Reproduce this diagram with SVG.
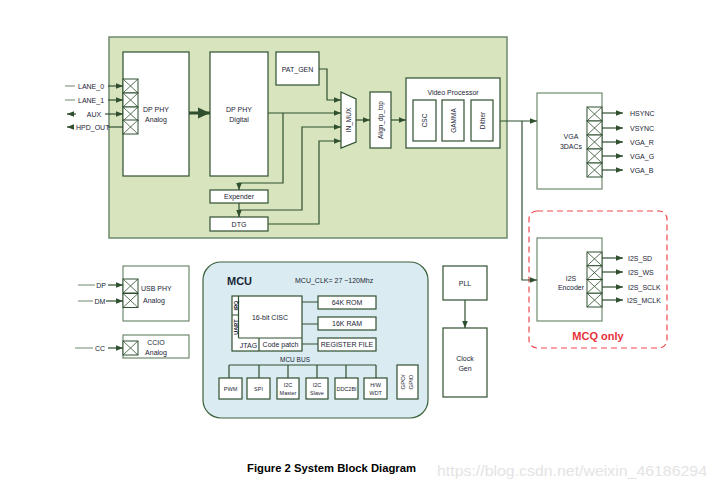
<svg xmlns="http://www.w3.org/2000/svg" xmlns:xlink="http://www.w3.org/1999/xlink" width="718" height="490" viewBox="0 0 718 490">
<style>
text{font-family:"Liberation Sans",Arial,sans-serif;font-size:7px;fill:#1b2535}
.c{text-anchor:middle}
.b{fill:#fff;stroke:#2f4f2f;stroke-width:1.2}
.g{fill:#fff;stroke:#6f8a6f;stroke-width:1.2}
.w{fill:none;stroke:#2f4f2f;stroke-width:1.2}
.lt{fill:none;stroke:#6f8a6f;stroke-width:1.2}
.a{marker-end:url(#ah)}
.s{marker-start:url(#ah)}
</style>
<defs>
<marker id="ah" viewBox="0 0 10 10" refX="10" refY="5" markerWidth="7" markerHeight="7" markerUnits="userSpaceOnUse" orient="auto-start-reverse"><path d="M0,1 L10,5 L0,9 z" fill="#2f4f2f"/></marker>
<marker id="ahb" viewBox="0 0 10 10" refX="10" refY="5" markerWidth="12" markerHeight="12" markerUnits="userSpaceOnUse" orient="auto"><path d="M0,0.5 L10,5 L0,9.5 z" fill="#2f4f2f"/></marker>
<g id="px"><rect x="0" y="0" width="15" height="14" fill="#fff" stroke="#2f4f2f" stroke-width="1"/><path d="M0,0 L15,14 M15,0 L0,14" stroke="#2f4f2f" stroke-width="0.8"/></g>
<g id="pxs"><rect x="0" y="0" width="15" height="13.75" fill="#fff" stroke="#2f4f2f" stroke-width="1"/><path d="M0,0 L15,13.75 M15,0 L0,13.75" stroke="#2f4f2f" stroke-width="0.8"/></g>
</defs>
<rect width="718" height="490" fill="#fff"/>

<g id="dp-subsystem">
<rect x="109" y="37" width="398" height="201" fill="#d7e4bd" stroke="#6f8a6f" stroke-width="1.5"/>
</g>

<g id="dp-phy-analog">
<rect class="b" x="123" y="52" width="66" height="124"/>
<use xlink:href="#px" x="123" y="79"/><use xlink:href="#px" x="123" y="93"/><use xlink:href="#px" x="123" y="107"/><use xlink:href="#px" x="123" y="120"/>
<text class="c" x="156" y="111.5">DP PHY</text><text class="c" x="156" y="121.5">Analog</text>
</g>
<g id="dp-phy-digital">
<rect class="b" x="210" y="52" width="58" height="124"/>
<text class="c" x="239" y="111.5">DP PHY</text><text class="c" x="239" y="121.5">Digital</text>
</g>
<g id="pat-gen"><rect class="b" x="276" y="52" width="43" height="33"/><text class="c" x="297.5" y="71.5">PAT_GEN</text></g>
<g id="expender"><rect class="b" x="210" y="190" width="58" height="13"/><text class="c" x="239" y="199">Expender</text></g>
<g id="dtg"><rect class="b" x="210" y="217" width="58" height="14"/><text class="c" x="239" y="226.5">DTG</text></g>
<g id="in-mux"><path class="b" d="M341,92 L356,99 L356,142 L341,148 Z"/><text class="c" transform="translate(351,120) rotate(-90)" style="font-size:6.5px">IN_MUX</text></g>
<g id="align-dp-top"><rect class="b" x="370" y="92" width="21" height="56"/><text class="c" transform="translate(383,120) rotate(-90)" style="font-size:6.5px">Align_dp_top</text></g>
<g id="video-processor">
<rect class="b" x="406" y="78" width="94" height="70"/>
<text class="c" x="453" y="94.5">Video Processor</text>
<rect class="b" x="413" y="100" width="23" height="41"/><text class="c" transform="translate(427,120.5) rotate(-90)" style="font-size:6.5px">CSC</text>
<rect class="b" x="442" y="100" width="22" height="41"/><text class="c" transform="translate(455.5,120.5) rotate(-90)" style="font-size:6.5px">GAMMA</text>
<rect class="b" x="471" y="100" width="22" height="41"/><text class="c" transform="translate(484.5,120.5) rotate(-90)" style="font-size:6.5px">Dither</text>
</g>

<g id="vga-3dacs">
<rect class="g" x="537" y="93" width="65" height="96"/>
<use xlink:href="#px" x="587" y="107"/><use xlink:href="#px" x="587" y="121"/><use xlink:href="#px" x="587" y="135"/><use xlink:href="#px" x="587" y="149"/><use xlink:href="#px" x="587" y="163"/>
<text class="c" x="571" y="139">VGA</text><text class="c" x="571" y="148.5">3DACs</text>
<text x="630" y="115.5">HSYNC</text><text x="630" y="130.5">VSYNC</text><text x="630" y="144.5">VGA_R</text><text x="630" y="158.5">VGA_G</text><text x="630" y="172.5">VGA_B</text>
</g>

<g id="mcq-only">
<rect x="529" y="211" width="138" height="137" rx="8" fill="none" stroke="#f0484c" stroke-width="1.2" stroke-dasharray="6,4"/>
<text class="c" x="598" y="340" style="font-size:11px;font-weight:bold;fill:#e8323a">MCQ only</text>
</g>
<g id="i2s-encoder">
<rect class="g" x="537" y="238" width="65" height="83"/>
<use xlink:href="#pxs" x="587" y="252"/><use xlink:href="#pxs" x="587" y="265.75"/><use xlink:href="#pxs" x="587" y="279.5"/><use xlink:href="#pxs" x="587" y="293.25"/>
<text class="c" x="571" y="280.5">I2S</text><text class="c" x="571" y="290">Encoder</text>
<text x="628" y="260.5">I2S_SD</text><text x="628" y="274.5">I2S_WS</text><text x="628" y="289.5">I2S_SCLK</text><text x="627" y="302.5">I2S_MCLK</text>
</g>

<g id="usb-phy-analog">
<rect class="g" x="123" y="266" width="66" height="55"/>
<use xlink:href="#px" x="123" y="279"/><use xlink:href="#px" x="123" y="293.5"/>
<text x="141" y="290.5">USB PHY</text><text x="143" y="302.5">Analog</text>
</g>
<g id="ccio-analog">
<rect class="g" x="123" y="335" width="66" height="23"/>
<use xlink:href="#px" x="123" y="341"/>
<text class="c" x="156" y="345">CCIO</text><text class="c" x="156" y="355">Analog</text>
</g>

<g id="mcu">
<rect x="203" y="262" width="225" height="156" rx="18" fill="#daecf2" stroke="#3c5f3c" stroke-width="1.2"/>
<text x="227" y="285" style="font-size:11px;font-weight:bold">MCU</text>
<text x="295" y="283" style="font-size:7px">MCU_CLK= 27 ~120Mhz</text>
<rect class="b" x="232" y="296" width="70" height="55"/>
<path class="w" d="M238.5,296 V338 M232,315 H238.5 M238.5,338 H302 M259,338 V351"/>
<text class="c" x="270" y="319.5" style="font-size:7px">16-bit CISC</text>
<text class="c" transform="translate(237.5,305.5) rotate(-90)" style="font-size:5.5px;font-weight:bold">IRQ</text>
<text class="c" transform="translate(237.5,327) rotate(-90)" style="font-size:5.5px;font-weight:bold">UART</text>
<text class="c" x="248.5" y="347.5">JTAG</text>
<text class="c" x="280.5" y="346.5">Code patch</text>
<rect class="b" x="318" y="296" width="58" height="13"/><text class="c" x="347" y="305">64K ROM</text>
<rect class="b" x="318" y="317" width="58" height="13"/><text class="c" x="347" y="326">16K RAM</text>
<rect class="b" x="318" y="338" width="58" height="13"/><text class="c" x="347" y="347">REGISTER FILE</text>
<text class="c" x="295" y="361.5" style="font-size:6.5px">MCU BUS</text>
<rect class="b" x="219" y="378" width="23" height="21"/><text class="c" x="230.5" y="390.5" style="font-size:5.5px">PWM</text>
<rect class="b" x="247" y="378" width="23" height="21"/><text class="c" x="258.5" y="390.5" style="font-size:5.5px">SPI</text>
<rect class="b" x="277" y="378" width="22" height="21"/><text class="c" x="288" y="386.5" style="font-size:5.5px">I2C</text><text class="c" x="288" y="394.5" style="font-size:5.5px">Master</text>
<rect class="b" x="306" y="378" width="22" height="21"/><text class="c" x="317" y="386.5" style="font-size:5.5px">I2C</text><text class="c" x="317" y="394.5" style="font-size:5.5px">Slave</text>
<rect class="b" x="335" y="378" width="23" height="21"/><text class="c" x="346.5" y="390.5" style="font-size:5.5px">DDC2BI</text>
<rect class="b" x="364" y="378" width="23" height="21"/><text class="c" x="375.5" y="386.5" style="font-size:5.5px">H/W</text><text class="c" x="375.5" y="394.5" style="font-size:5.5px">WDT</text>
<rect class="b" x="397" y="365" width="21" height="34"/>
<text class="c" transform="translate(404.5,382) rotate(-90)" style="font-size:6px">GPO/</text>
<text class="c" transform="translate(412.5,382) rotate(-90)" style="font-size:6px">GPIO</text>
</g>

<g id="pll"><rect class="b" x="443" y="266" width="44" height="34"/><text class="c" x="465" y="285.5">PLL</text></g>
<g id="clock-gen"><rect class="b" x="443" y="328" width="44" height="69"/><text class="c" x="465" y="361">Clock</text><text class="c" x="465" y="370.5">Gen</text></g>

<g id="connectors">
<path class="lt" d="M65,86 H75 M65,100 H75"/>
<path class="w a" d="M108,86 H123"/><path class="w a" d="M108,100 H123"/>
<path class="w s" d="M67,114 H76"/><path class="w a" d="M105,114 H123"/>
<path class="w s" d="M67,127 H74"/><path class="w" d="M108,127 H123"/>
<path d="M189,113 H210" fill="none" stroke="#2f4f2f" stroke-width="3" marker-end="url(#ahb)"/>
<path class="w a" d="M268,113 H341"/>
<path class="w a" d="M283,113 V183 H239 V190"/>
<path class="w a" d="M239,203 V217"/>
<path class="w a" d="M239,210 H302 V127 H341"/>
<path class="w a" d="M268,224 H319 V141 H341"/>
<path class="w a" d="M319,69 H327 V100 H341"/>
<path class="w a" d="M356,120 H370"/>
<path class="w a" d="M391,120 H406"/>
<path class="w a" d="M500,121 H537"/>
<path class="w a" d="M522,121 V280 H537"/>
<path class="w a" d="M602,113 H623"/><path class="w a" d="M602,128 H623"/><path class="w a" d="M602,142 H623"/><path class="w a" d="M602,156 H623"/><path class="w a" d="M602,170 H623"/>
<path class="w a" d="M602,258 H623"/><path class="w a" d="M602,272 H623"/><path class="w a" d="M602,287 H623"/><path class="w a" d="M602,300 H623"/>
<path class="lt" d="M78,285 H95 M78,301 H93 M75,348 H93"/>
<path class="w a" d="M108,285 H123"/><path class="w a" d="M106,301 H123"/><path class="w a" d="M108,348 H123"/>
<path class="w" d="M302,302 H318 M302,324 H318 M302,344 H318"/>
<path class="w" d="M229,365 H376 M229,365 V378 M259,365 V378 M288,365 V378 M317,365 V378 M346,365 V378 M376,365 V378"/>
<path class="w a" d="M465,300 V328"/>
</g>

<g id="labels">
<text x="78" y="88.5">LANE_0</text>
<text x="78" y="102.5">LANE_1</text>
<text class="c" x="94" y="116.5">AUX</text>
<text x="76" y="129.5">HPD_OUT</text>
<text class="c" x="101" y="287.5">DP</text>
<text class="c" x="100" y="303.5">DM</text>
<text class="c" x="100" y="350.5">CC</text>
</g>

<g id="caption">
<text x="247" y="472" style="font-size:11px;font-weight:bold;fill:#000" textLength="169" lengthAdjust="spacingAndGlyphs">Figure 2 System Block Diagram</text>
<text x="437" y="476" style="font-size:15px;fill:#e4e4e4" textLength="270" lengthAdjust="spacingAndGlyphs">https://blog.csdn.net/weixin_46186294</text>
</g>
</svg>
